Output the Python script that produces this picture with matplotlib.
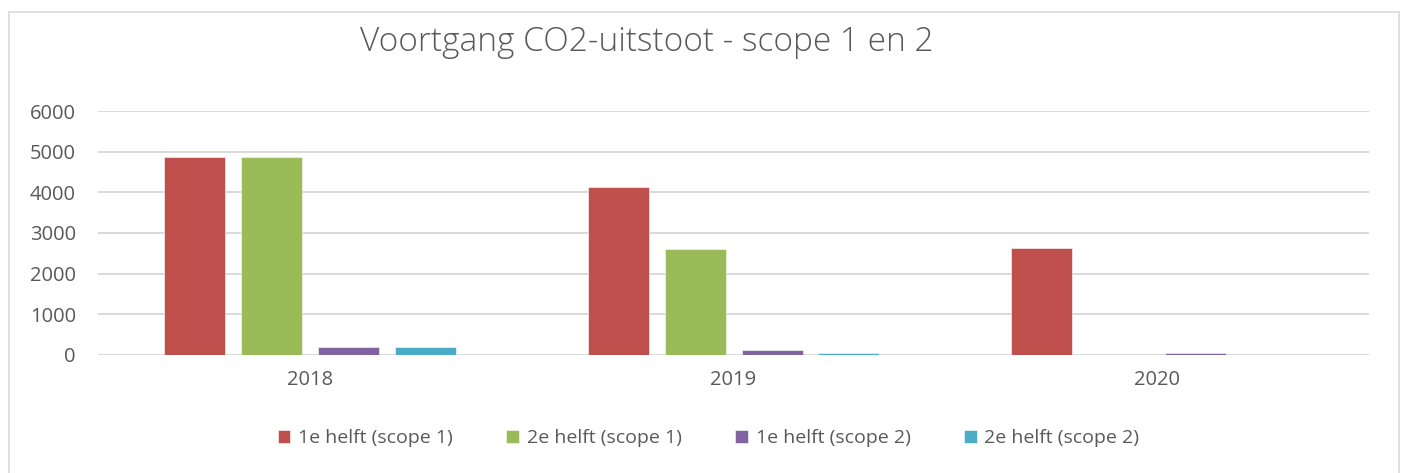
import numpy as np
import matplotlib.pyplot as plt
from matplotlib.patches import Rectangle

years = ['2018', '2019', '2020']
series_names = ['1e helft (scope 1)', '2e helft (scope 1)',
                '1e helft (scope 2)', '2e helft (scope 2)']
h1_scope1 = [4880, 4120, 2640]
h2_scope1 = [4880, 2600, 0]
h1_scope2 = [190, 120, 60]
h2_scope2 = [190, 45, 0]
colors = ['#C0504D', '#9BBB59', '#8064A2', '#4BACC6']

plt.rcParams['font.family'] = ['Open Sans', 'DejaVu Sans']
text_color = '#595959'

fig = plt.figure(figsize=(14.03, 4.73), dpi=100)
ax = fig.add_axes([0.0699, 0.2495, 0.9059, 0.5158])

# outer border of chart area
fig.patches.append(Rectangle((9 / 1403, -0.01), 1390 / 1403, 1 - 12 / 473 + 0.01,
                             transform=fig.transFigure, fill=False,
                             edgecolor='#d9d9d9', linewidth=1.2))

x = np.arange(len(years))
width = 0.144
step = 0.1815
all_series = [h1_scope1, h2_scope1, h1_scope2, h2_scope2]
for i, (vals, name) in enumerate(zip(all_series, series_names)):
    ax.bar(x + (i - 1.5) * step, vals, width, color=colors[i], label=name,
           edgecolor='white', linewidth=0.4, zorder=3)

ax.set_xlim(-0.5, 2.5)
ax.set_ylim(0, 6000)
ax.set_yticks(range(0, 6001, 1000))
ax.set_xticks(x)
ax.set_xticklabels(years)
ax.grid(axis='y', color='#d9d9d9', linewidth=1.4, zorder=0)
for s in ax.spines.values():
    s.set_visible(False)
ax.tick_params(length=0, colors=text_color, labelsize=14.5)
ax.tick_params(axis='y', pad=16)
ax.tick_params(axis='x', pad=11)

fig.text(0.461, 0.91, 'Voortgang CO2-uitstoot - scope 1 en 2', ha='center',
         va='center', fontsize=24, color=text_color, fontweight='light')

leg = fig.legend(loc='center', bbox_to_anchor=(0.505, 0.074), ncol=4,
                 frameon=False, fontsize=14, handlelength=0.65,
                 handleheight=0.65, handletextpad=0.4, columnspacing=2.75)
for t in leg.get_texts():
    t.set_color(text_color)

plt.savefig('out.png', dpi=100)
